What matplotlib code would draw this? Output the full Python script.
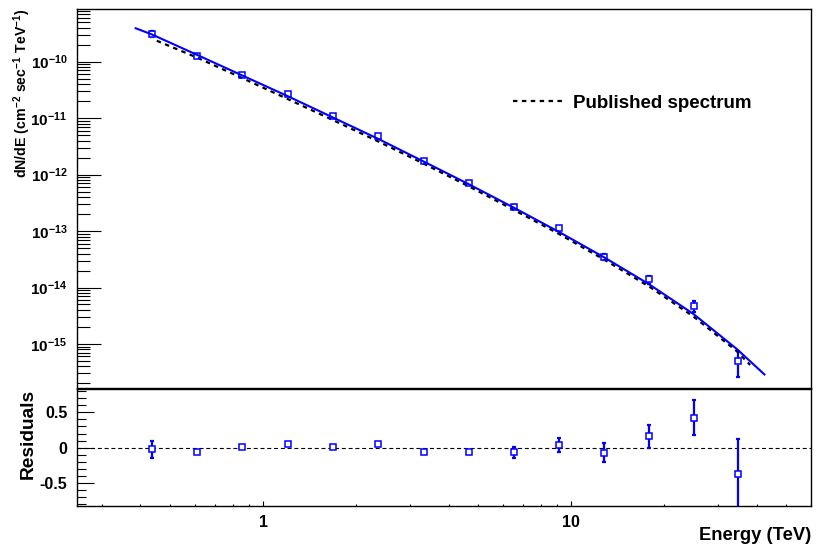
import numpy as np
import matplotlib
matplotlib.use("Agg")
import matplotlib.pyplot as plt
from matplotlib.ticker import (LogLocator, FixedLocator, MultipleLocator,
                               FuncFormatter, NullFormatter)

plt.rcParams["font.family"] = ["Liberation Sans", "DejaVu Sans"]
plt.rcParams["font.weight"] = "bold"
plt.rcParams["axes.labelweight"] = "bold"
plt.rcParams["mathtext.fontset"] = "custom"
plt.rcParams["mathtext.rm"] = "Liberation Sans:bold"
plt.rcParams["mathtext.it"] = "Liberation Sans:bold"
plt.rcParams["mathtext.bf"] = "Liberation Sans:bold"
plt.rcParams["axes.unicode_minus"] = False

# — measured spectrum (TeV, cm^-2 s^-1 TeV^-1) —
energy = [0.435, 0.609, 0.855, 1.203, 1.684, 2.368, 3.325, 4.665, 6.53,
          9.14, 12.83, 17.96, 25.08, 34.93]
flux = [3.09e-10, 1.28e-10, 5.89e-11, 2.65e-11, 1.09e-11, 4.77e-12, 1.72e-12,
        7.02e-13, 2.67e-13, 1.11e-13, 3.48e-14, 1.39e-14, 4.71e-15, 5.06e-16]
flux_err = [3.7e-11, 2.0e-12, 5.7e-13, 2.5e-13, 1.0e-13, 6.4e-14, 3.4e-14,
            2.0e-14, 2.1e-14, 9.1e-15, 4.4e-15, 2.2e-15, 1.06e-15, 2.45e-16]

# — residuals (data - fit) / fit —
resid = [-0.02, -0.06, 0.01, 0.05, 0.005, 0.055, -0.06, -0.06, -0.065,
         0.04, -0.07, 0.16, 0.425, -0.37]
resid_err = [0.12, 0.015, 0.01, 0.01, 0.01, 0.015, 0.02, 0.03, 0.08,
             0.095, 0.13, 0.165, 0.245, 0.495]

fit_energy = [0.386, 0.435, 0.609, 0.855, 1.203, 1.684, 2.368, 3.325, 4.665,
              6.53, 9.14, 12.83, 17.92, 24.95, 34.59, 42.43]
fit_flux = [3.91e-10, 3.05e-10, 1.33e-10, 5.72e-11, 2.45e-11, 1.03e-11,
            4.28e-12, 1.70e-12, 6.71e-13, 2.58e-13, 9.63e-14, 3.40e-14,
            1.14e-14, 3.40e-15, 8.05e-16, 2.88e-16]

# — published spectrum —
pub_energy = [0.452, 0.609, 0.855, 1.203, 1.684, 2.368, 3.325, 4.665, 6.53,
              9.14, 12.83, 17.92, 24.95, 34.59, 38.13]
pub_flux = [2.35e-10, 1.19e-10, 5.14e-11, 2.18e-11, 9.28e-12, 3.86e-12,
            1.56e-12, 6.16e-13, 2.36e-13, 8.88e-14, 3.10e-14, 1.04e-14,
            3.07e-15, 7.36e-16, 4.25e-16]

flux_ticks = [1e-15, 1e-14, 1e-13, 1e-12, 1e-11, 1e-10]
resid_ticks = [-0.5, 0, 0.5]
energy_ticks = [1, 10]

BLUE = "#0000ff"

fig = plt.figure(figsize=(8.16, 5.48), dpi=100)
ax = fig.add_axes([0.0944, 0.2920, 0.8995, 0.6916])
axr = fig.add_axes([0.0944, 0.0766, 0.8995, 0.2135])

# — upper panel: spectrum —
ax.errorbar(energy, flux, yerr=flux_err, fmt="none", ecolor=BLUE,
            elinewidth=1.6, capsize=1.5, capthick=1.6, zorder=2)
ax.plot(energy, flux, ls="none", marker="s", ms=4.2, mfc="white",
        mec="none", zorder=3)
pub_line, = ax.plot(pub_energy, pub_flux, color="black", lw=1.6,
                    ls=(0, (2, 2)), zorder=3.5, label="Published spectrum")
ax.plot(fit_energy, fit_flux, color=BLUE, lw=1.5, zorder=4)
ax.plot(energy, flux, ls="none", marker="s", ms=4.2, mfc="none",
        mec=BLUE, mew=1.1, zorder=5)

ax.set_xscale("log")
ax.set_yscale("log")
ax.set_xlim(0.249, 60.1)
ax.set_ylim(1.66e-16, 8.58e-10)
ax.yaxis.set_major_locator(FixedLocator(flux_ticks))
ax.yaxis.set_minor_locator(LogLocator(base=10, subs=np.arange(2, 10), numticks=20))
ax.yaxis.set_minor_formatter(NullFormatter())
ax.tick_params(axis="y", which="major", direction="in", length=17.3,
               width=0.8, pad=7, labelsize=11)
ax.tick_params(axis="y", which="minor", direction="in", length=9, width=0.8)
ax.tick_params(axis="x", which="both", bottom=False, labelbottom=False)
ax.set_ylabel(r"$\mathdefault{dN/dE\ (cm^{-2}\ sec^{-1}\ TeV^{-1})}$",
              fontsize=10.2, loc="top")
ax.yaxis.set_label_coords(-0.060, 1.0)

ax.legend(handles=[pub_line], loc="center left",
          bbox_to_anchor=(513 / 816, 1 - 103 / 548),
          bbox_transform=fig.transFigure, frameon=False, fontsize=13.5,
          handlelength=2.67, handletextpad=0.53, borderpad=0, borderaxespad=0)

# — lower panel: residuals —
axr.axhline(0, color="black", lw=0.8, ls=(0, (3.6, 2.5)), zorder=1)
axr.errorbar(energy, resid, yerr=resid_err, fmt="none", ecolor=BLUE,
             elinewidth=1.6, capsize=1.5, capthick=1.6, zorder=2)
axr.plot(energy, resid, ls="none", marker="s", ms=4.2, mfc="white",
         mec=BLUE, mew=1.1, zorder=3)

axr.set_xscale("log")
axr.set_xlim(0.249, 60.1)
axr.set_ylim(-0.825, 0.83)
axr.yaxis.set_major_locator(FixedLocator(resid_ticks))
axr.yaxis.set_minor_locator(MultipleLocator(0.1))
axr.yaxis.set_major_formatter(FuncFormatter(lambda v, p: "0" if v == 0 else f"{v:g}"))
axr.xaxis.set_major_locator(FixedLocator(energy_ticks))
axr.xaxis.set_major_formatter(FuncFormatter(lambda v, p: f"{v:g}"))
axr.xaxis.set_minor_locator(LogLocator(base=10, subs=np.arange(2, 10), numticks=20))
axr.xaxis.set_minor_formatter(NullFormatter())
axr.tick_params(axis="y", which="major", direction="in", length=12.2,
                width=0.8, pad=7, labelsize=11.5)
axr.tick_params(axis="y", which="minor", direction="in", length=6.7, width=0.8)
axr.tick_params(axis="x", which="major", direction="in", length=3.6,
                width=0.8, pad=6.3, labelsize=11.5)
axr.tick_params(axis="x", which="minor", direction="in", length=1.8, width=0.8)
axr.set_ylabel("Residuals", fontsize=13.8, loc="top")
axr.yaxis.set_label_coords(-0.055, 1.0)
axr.set_xlabel("Energy (TeV)", fontsize=13.2, loc="right")
axr.xaxis.set_label_coords(1.0, -0.18)

for a in (ax, axr):
    for sp in a.spines.values():
        sp.set_linewidth(1.0)

plt.savefig("out.png", dpi=100)
plt.close(fig)
